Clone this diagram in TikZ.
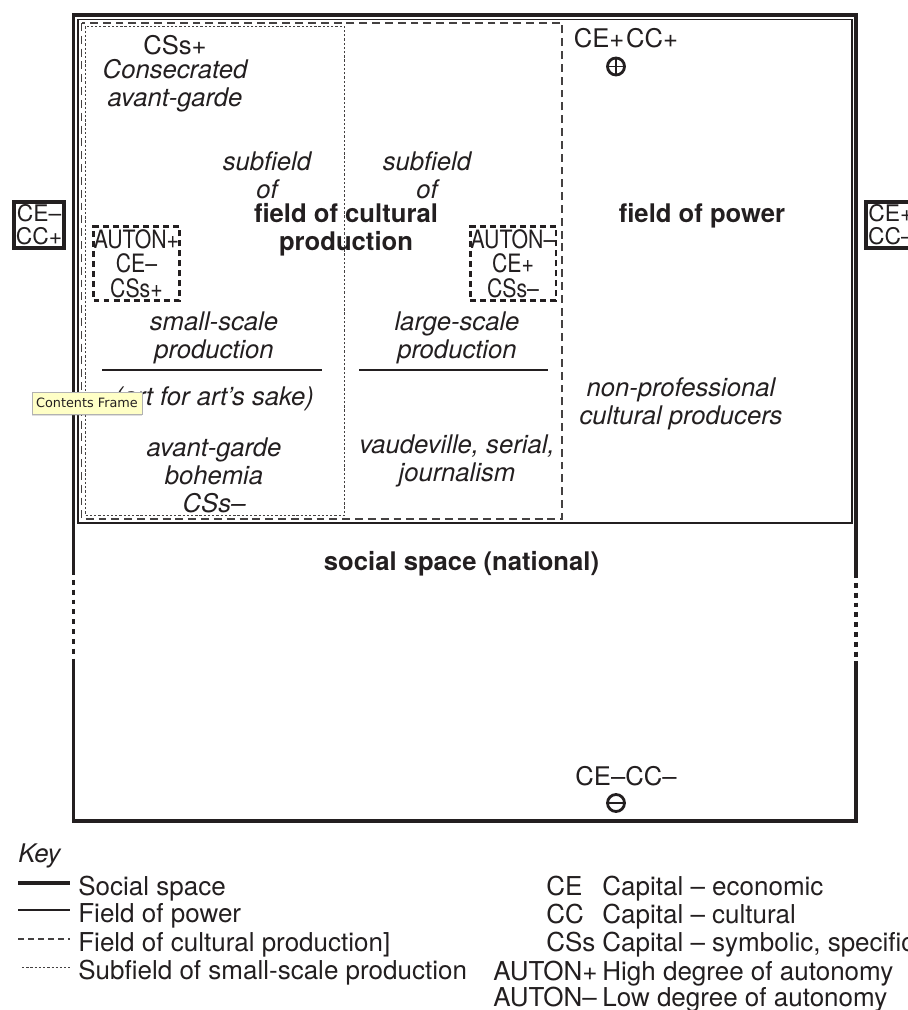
\documentclass[tikz,border=0pt]{standalone}
\usepackage{fontspec}
\setmainfont{TeX Gyre Heros}
\newfontfamily\condfont[FakeStretch=0.84]{TeX Gyre Heros}
\newfontfamily\tipfont{DejaVu Sans}
\usetikzlibrary{positioning,shadows}
\definecolor{ink}{HTML}{231F20}
\definecolor{tipfill}{HTML}{FFFFC6}

\begin{document}
\begin{tikzpicture}[x=0.02cm,y=-0.02cm,
  lbl/.style={font=\fontsize{14.6}{15.9}\selectfont,text=ink,align=center,inner sep=0pt},
  itl/.style={lbl,font=\fontsize{14.6}{15.9}\selectfont\itshape},
  bld/.style={lbl,font=\fontsize{14.6}{15.9}\selectfont\bfseries},
  keytxt/.style={lbl,anchor=base west,font=\fontsize{14.8}{15.9}\selectfont},
  capbox/.style={lbl,draw=ink,line width=2.3pt,minimum width=1.0cm,minimum height=0.92cm,font=\fontsize{13}{13}\selectfont},
  autonbox/.style={lbl,draw=ink,line width=1.7pt,dash pattern=on 3.4pt off 2.3pt,minimum width=1.72cm,minimum height=1.48cm,font=\condfont\fontsize{14.4}{14}\selectfont},
  sign/.style={circle,draw=ink,line width=1.6pt,minimum size=0.34cm,inner sep=0pt},
  social/.style={draw=ink,line width=1.8pt},
  power/.style={draw=ink,line width=0.6pt},
  cultural/.style={draw=ink!85,line width=0.6pt,dash pattern=on 4.5pt off 2.8pt},
  smallscale/.style={draw=ink!85,line width=0.5pt,dash pattern=on 1.3pt off 1.1pt},
  rule/.style={draw=ink,line width=1.3pt},
  tip/.style={draw=gray!60,fill=tipfill,inner sep=0pt,minimum width=2.2cm,minimum height=0.44cm,
    font=\tipfont\fontsize{7.3}{8}\selectfont,text=ink,drop shadow={shadow xshift=0pt,shadow yshift=-1.2pt,opacity=0.25}}]
  \useasboundingbox (0,0) rectangle (908,1010);
  \clip (0,0) rectangle (908,1010);

  \draw[social] (73.5,570) -- (73.5,15) -- (856,15) -- (856,573);
  \draw[social] (856,661) -- (856,821) -- (73.5,821) -- (73.5,660);
  \draw[social,dash pattern=on 2.8pt off 2.8pt] (73.5,570) -- (73.5,660);
  \draw[social,dash pattern=on 2.8pt off 2.8pt] (856,573) -- (856,661);
  \draw[power] (78,19.5) rectangle (852,523);
  \draw[cultural] (81.5,23) rectangle (562,519);
  \draw[smallscale] (85.5,26.5) rectangle (344.5,515.5);

  \node[capbox] (ccleft) at (39,225) {CE–\\CC+};
  \node[capbox,anchor=west] (ccright) at (864,225) {CE+\\CC–};

  \node[lbl] (cssplus) at (175,45) {CSs+};
  \node[itl] (consecrated) at (175,86) {Consecrated\\avant-garde};
  \node[itl] (subsmall) at (267,175) {subfield\\of};
  \node[itl] (sublarge) at (427,175) {subfield\\of};
  \node[bld] (fieldcult) at (346,230) {field of cultural\\production};
  \node[bld] (fieldpower) at (702,216) {field of power};

  \node[autonbox] (autonplus) at (136.5,263.5) {AUTON+\\CE–\\CSs+};
  \node[autonbox] (autonminus) at (513,263.5) {AUTON–\\CE+\\CSs–};

  \node[itl] (smallprod) at (214,338) {small-scale\\production};
  \node[itl] (largeprod) at (457,338) {large-scale\\production};
  \draw[rule] (102,370) -- (322,370);
  \draw[rule] (359,370) -- (548,370);

  \node[itl] (artsake) at (214,399) {(art for art's sake)};
  \node[itl] (nonprof) at (681,404) {non-professional\\cultural producers};
  \node[itl] (bohemia) at (214,475) {avant-garde\\bohemia\\CSs–};
  \node[itl] (vaudeville) at (457,461) {vaudeville, serial,\\journalism};

  \node[lbl] (cepos) at (626,38) {CE+\kern1pt CC+};
  \node[sign,path picture={\draw[ink,line width=1.1pt]
      (path picture bounding box.west) -- (path picture bounding box.east)
      (path picture bounding box.north) -- (path picture bounding box.south);}]
    (plussign) at (616,66.5) {};

  \node[bld] (socialspace) at (461.5,564) {social space (national)};

  \node[lbl] (ceneg) at (626,776) {CE–CC–};
  \node[sign,path picture={\draw[ink,line width=1.1pt]
      (path picture bounding box.west) -- (path picture bounding box.east);}]
    (minussign) at (616,803) {};

  \node[tip] (tooltip) at (87,403) {Contents Frame};

  \node[itl,anchor=base west] (keytitle) at (18,862) {Key};
  \draw[social] (18,883) -- (70,883);
  \draw[power] (18,910) -- (70,910);
  \draw[cultural,dash pattern=on 3.4pt off 2.3pt] (18,939) -- (70,939);
  \draw[smallscale] (22,967) -- (70,967);
  \node[keytxt] (keysocial) at (78,895) {Social space};
  \node[keytxt] (keypower) at (78,922.5) {Field of power};
  \node[keytxt] (keycult) at (78,951) {Field of cultural production]};
  \node[keytxt] (keysmall) at (78,979) {Subfield of small-scale production};

  \node[keytxt] (abce) at (546,895) {CE};
  \node[keytxt] (abcc) at (546,923.5) {CC};
  \node[keytxt] (abcss) at (546,951.5) {CSs};
  \node[keytxt] (abaplus) at (493,980) {AUTON+};
  \node[keytxt] (abaminus) at (493,1006.5) {AUTON–};
  \node[keytxt] (defce) at (602,895) {Capital – economic};
  \node[keytxt] (defcc) at (602,923.5) {Capital – cultural};
  \node[keytxt] (defcss) at (602,951.5) {Capital – symbolic, specific};
  \node[keytxt] (defaplus) at (602,980) {High degree of autonomy};
  \node[keytxt] (defaminus) at (602,1006.5) {Low degree of autonomy};
\end{tikzpicture}
\end{document}
